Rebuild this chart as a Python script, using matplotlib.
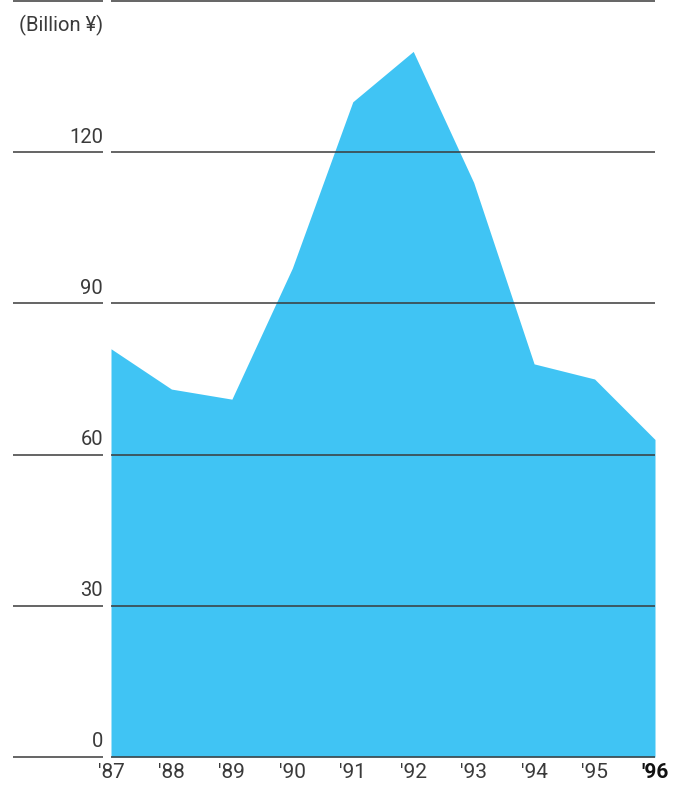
import matplotlib
matplotlib.use('Agg')
import matplotlib.pyplot as plt

# Values by fiscal year, billion yen
years = ["'87", "'88", "'89", "'90", "'91", "'92", "'93", "'94", "'95", "'96"]
values = [81, 73, 71, 97, 130, 140, 114, 78, 75, 63]
y_ticks = [0, 30, 60, 90, 120, 150]
y_labels = ['0', '30', '60', '90', '120', '']

plt.rcParams['font.family'] = ['Roboto', 'DejaVu Sans']

fig = plt.figure(figsize=(6.73, 7.85), dpi=100)
W, H = 673, 785
ax = fig.add_axes([111 / W, 1 - 757 / H, (655 - 111) / W, (757 - 1) / H])

x = list(range(len(years)))
ax.fill_between(x, 0, values, color='#40C4F4', lw=0, zorder=1)

ax.set_xlim(0, len(years) - 1)
ax.set_ylim(0, 150)
ax.axis('off')

px = (len(years) - 1) / (655 - 111)  # data units per pixel
for t, lab in zip(y_ticks, y_labels):
    ax.hlines(t, 0, len(years) - 1, color='#3a3a3a', lw=1.1, zorder=3, clip_on=False)
    ax.hlines(t, (13 - 111) * px, (103 - 111) * px, color='#3a3a3a', lw=1.1,
              zorder=3, clip_on=False)
    if lab:
        ax.text((103 - 111) * px, t + 1.1, lab, ha='right', va='bottom',
                fontsize=14.5, color='#3a3a3a', clip_on=False)

ax.text((103 - 111) * px, 147.2, '(Billion ¥)', ha='right', va='top',
        fontsize=14.5, color='#3a3a3a', clip_on=False)

for i, lab in enumerate(years):
    last = i == len(years) - 1
    ax.text(i, -1.1, lab, ha='center', va='top', fontsize=15,
            color='#111111' if last else '#3a3a3a',
            fontweight='bold' if last else 'normal', clip_on=False)

fig.savefig('out.png', dpi=100)
